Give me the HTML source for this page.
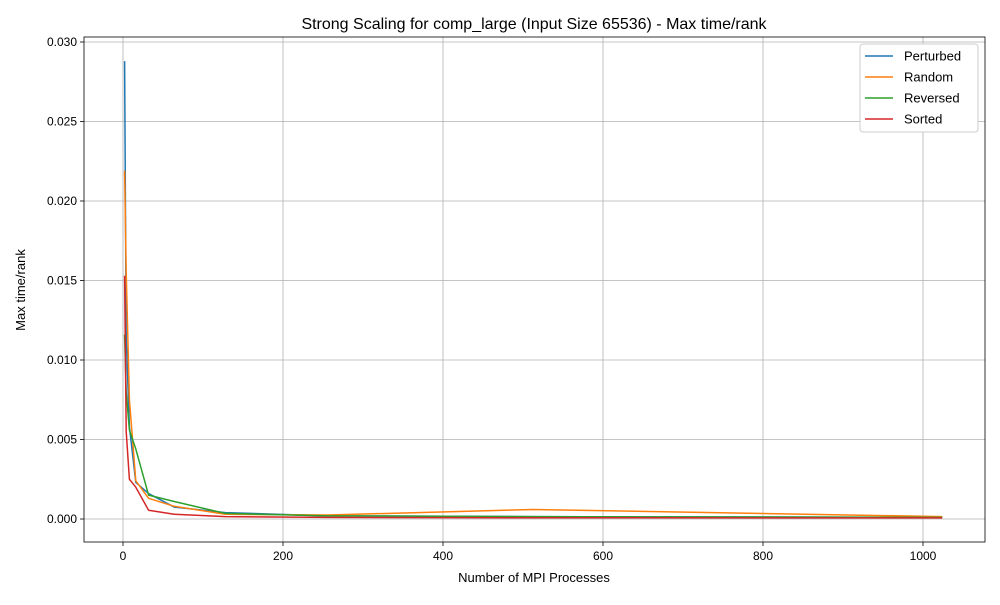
<!DOCTYPE html>
<html><head><meta charset="utf-8"><style>body{margin:0;background:#fff}svg{font-family:"Liberation Sans",sans-serif}</style></head>
<body>
<svg id="chart" width="1000" height="600" xmlns="http://www.w3.org/2000/svg">
<rect width="1000" height="600" fill="#fff"/>
<text x="534" y="29" font-size="16" text-anchor="middle">Strong Scaling for comp_large (Input Size 65536) - Max time/rank</text>
<g id="grid"></g><g id="series"></g><g id="axes"></g>
<text x="534" y="582" font-size="13" text-anchor="middle">Number of MPI Processes</text>
<text transform="translate(25,290) rotate(-90)" font-size="13" text-anchor="middle">Max time/rank</text>
<g id="legend"></g>
</svg>
<script>
const procs=[2,4,8,16,32,64,128,256,512,1024];
const perturbed=[0.0288,0.0115,0.0058,0.0023,0.0016,0.00075,0.0004,0.0002,0.00015,0.0001];
const random=[0.0219,0.0155,0.0075,0.0024,0.0013,0.0008,0.0003,0.00025,0.0006,0.00015];
const reversed=[0.0116,0.008,0.0056,0.0044,0.0015,0.0011,0.00035,0.0002,0.00015,0.0001];
const sorted=[0.0153,0.0055,0.0025,0.002,0.00055,0.0003,0.00015,0.0001,0.00008,0.00007];
const seriesNames=["Perturbed","Random","Reversed","Sorted"];
const xTicks=[0,200,400,600,800,1000];
const yTicks=[0,0.005,0.01,0.015,0.02,0.025,0.03];
const yTickLabels=["0.000","0.005","0.010","0.015","0.020","0.025","0.030"];
const colors=["#1f77b4","#ff7f0e","#2ca02c","#d62728"];
const L=84,R=985,T=37,B=542;
const X=v=>123+(v-0)*0.8;
const Y=v=>519-v*15900;
const NS="http://www.w3.org/2000/svg";
function mk(tag,attrs,parent){const e=document.createElementNS(NS,tag);for(const k in attrs)e.setAttribute(k,attrs[k]);parent.appendChild(e);return e;}
const grid=document.getElementById('grid'),axes=document.getElementById('axes'),ser=document.getElementById('series'),leg=document.getElementById('legend');
xTicks.forEach(t=>{const x=X(t);
 const g=mk('line',{x1:x,x2:x,y1:T,y2:B,stroke:'#b0b0b0','stroke-width':0.8},grid);
 
 
 mk('line',{x1:x,x2:x,y1:B,y2:B+4,stroke:'#000','stroke-width':0.8},axes);
 const tx=mk('text',{x:x,y:B+18,'font-size':12,'text-anchor':'middle'},axes);tx.textContent=t;
 
 });
yTicks.forEach((t,i)=>{const y=Y(t);
 const g=mk('line',{x1:L,x2:R,y1:y,y2:y,stroke:'#b0b0b0','stroke-width':0.8},grid);
 
 
 mk('line',{x1:L-4,x2:L,y1:y,y2:y,stroke:'#000','stroke-width':0.8},axes);
 const tx=mk('text',{x:L-7,y:y+4,'font-size':12,'text-anchor':'end'},axes);tx.textContent=yTickLabels[i];
 
 });
const fr=mk('rect',{x:L,y:T,width:R-L,height:B-T,fill:'none',stroke:'#000','stroke-width':0.8},axes);


[perturbed,random,reversed,sorted].forEach((d,i)=>{
 const p=mk('polyline',{points:procs.map((x,j)=>X(x)+','+Y(d[j])).join(' '),fill:'none',stroke:colors[i],'stroke-width':1.5,'stroke-linejoin':'round'},ser);
 
 });
const lb=mk('rect',{x:860,y:44,width:118,height:88,fill:'#fff',stroke:'#ccc',rx:3},leg);


seriesNames.forEach((n,i)=>{const y=56+i*21;
 const g=mk('g',{},leg);
 
 
 mk('line',{x1:865,x2:893,y1:y,y2:y,stroke:colors[i],'stroke-width':1.5},g);
 const t=mk('text',{x:904,y:y+4.5,'font-size':13},g);t.textContent=n;});
</script>
</body></html>
